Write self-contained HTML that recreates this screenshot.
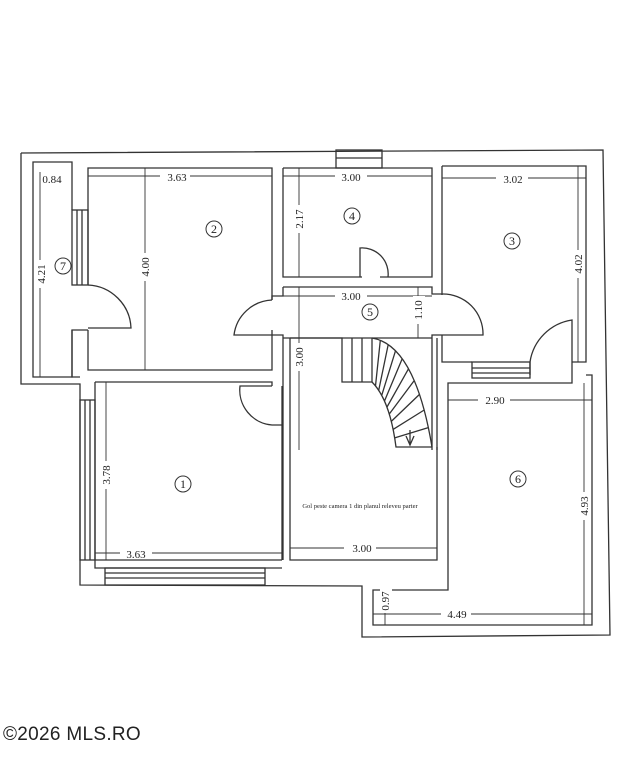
<!DOCTYPE html>
<html><head><meta charset="utf-8"><style>
html,body{margin:0;padding:0;background:#fff;}
svg{display:block;}
text{font-family:"Liberation Serif",serif;fill:#222;}
</style></head><body>
<svg width="626" height="768" viewBox="0 0 626 768" xmlns="http://www.w3.org/2000/svg">
<g fill="none" stroke="#333" stroke-width="1.3">
<polyline points="21,153 603,150 610,635 362,637 362,586 80,585 80,384 21,384 21,153"/>
<polyline points="72,210 72,162 33,162 33,377 72,377 72,330"/>
<rect x="72" y="210" width="16" height="75"/>
<line x1="77" y1="210" x2="77" y2="285"/><line x1="82" y1="210" x2="82" y2="285"/>
<polyline points="88,285 88,168 272,168 272,300"/>
<polyline points="272,330 272,370 88,370 88,330"/>
<polyline points="88,330 72,330 72,377 80,377"/>
<path d="M88,285 A45,45 0 0 1 131,328 L88,328"/>
<polyline points="283,168 283,277 362,277"/>
<polyline points="380,277 432,277 432,168 283,168"/>
<path d="M360,277 L360,248 A26,26 0 0 1 388,277"/>
<rect x="336" y="150" width="46" height="18"/>
<line x1="336" y1="158" x2="382" y2="158"/>
<polyline points="442,166 586,166 586,362 572,362"/>
<polyline points="442,166 442,295"/>
<polyline points="442,335 442,362 472,362"/>
<path d="M530,362 L530,375 M530,362 A50,50 0 0 1 572,320 L572,375"/>
<rect x="472" y="362" width="58" height="16"/>
<line x1="472" y1="368" x2="530" y2="368"/><line x1="472" y1="373" x2="530" y2="373"/>
<polyline points="283,287 283,296 272,296 272,300"/>
<polyline points="283,287 432,287 432,294 442,294"/>
<path d="M442,294 A40,40 0 0 1 483,335 L432,335 L432,450"/>
<path d="M272,300 A40,40 0 0 0 234,335 L283,335 L283,560"/>
<line x1="283" y1="338" x2="342" y2="338"/>
<polyline points="290,338 342,338 342,382 372,382"/>
<line x1="342" y1="338" x2="432" y2="338"/>
<line x1="352" y1="338" x2="352" y2="382"/><line x1="362" y1="338" x2="362" y2="382"/><line x1="372" y1="338" x2="372" y2="382"/>
<path d="M372,338 Q415,345 432,447"/>
<path d="M372,382 Q390,400 396,447 L432,447"/>
<path d="M380.3,340.4 L375.5,385.9 M388.2,344.6 L378.7,390.4 M395.5,350.8 L381.7,395.4 M402.2,358.8 L384.5,401 M408.5,368.8 L387,407 M414.2,380.6 L389.3,414 M419.5,394.4 L391.3,421.4 M424.2,410 L393.1,429.4 M428.3,427.6 L394.7,437.9"/>
<path d="M406,436 L410,445 L414,436 M410,430 L410,445"/>
<polyline points="95,382 272,382 272,386"/>
<polyline points="282,386 282,560"/>
<path d="M272,386 L240,386 A35,35 0 0 0 272,425 L282,425"/>
<polyline points="95,382 95,560 282,560"/>
<rect x="80" y="400" width="15" height="160"/>
<line x1="85" y1="400" x2="85" y2="560"/><line x1="90" y1="400" x2="90" y2="560"/>
<rect x="105" y="568" width="160" height="17"/>
<line x1="105" y1="573" x2="265" y2="573"/><line x1="105" y1="578" x2="265" y2="578"/>
<polyline points="95,560 95,568 282,568"/>
<polyline points="290,338 290,560 437,560 437,447"/>
<polyline points="448,450 448,383 572,383 572,375"/>
<polyline points="586,375 592,375 592,625 373,625 373,590 448,590 448,560"/>
<polyline points="448,560 448,450"/>
<polyline points="437,338 437,450"/>
</g>
<g stroke="#333" stroke-width="0.9" fill="none">
<line x1="88" y1="176" x2="272" y2="176"/>
<line x1="145" y1="168" x2="145" y2="370"/>
<line x1="40" y1="172" x2="40" y2="377"/>
<line x1="283" y1="176" x2="432" y2="176"/>
<line x1="299" y1="168" x2="299" y2="277"/>
<line x1="442" y1="178" x2="586" y2="178"/>
<line x1="578" y1="166" x2="578" y2="362"/>
<line x1="283" y1="296" x2="432" y2="296"/>
<line x1="418" y1="287" x2="418" y2="338"/>
<line x1="299" y1="287" x2="299" y2="450"/>
<line x1="106" y1="382" x2="106" y2="560"/>
<line x1="95" y1="553" x2="282" y2="553"/>
<line x1="290" y1="548" x2="437" y2="548"/>
<line x1="448" y1="400" x2="592" y2="400"/>
<line x1="584" y1="383" x2="584" y2="625"/>
<line x1="373" y1="614" x2="592" y2="614"/>
<line x1="385" y1="590" x2="385" y2="625"/>
</g>
<g font-size="11" text-anchor="middle">
<rect x="160" y="170" width="30" height="12" fill="#fff"/><text x="177" y="181">3.63</text>
<text x="52" y="183" font-size="11">0.84</text>
<rect x="335" y="170" width="32" height="12" fill="#fff"/><text x="351" y="181">3.00</text>
<rect x="496" y="172" width="32" height="12" fill="#fff"/><text x="513" y="183">3.02</text>
<rect x="335" y="290" width="32" height="12" fill="#fff"/><text x="351" y="300">3.00</text>
<rect x="120" y="547" width="32" height="12" fill="#fff"/><text x="136" y="558">3.63</text>
<rect x="344" y="542" width="32" height="12" fill="#fff"/><text x="362" y="552">3.00</text>
<rect x="478" y="394" width="32" height="12" fill="#fff"/><text x="495" y="404">2.90</text>
<rect x="441" y="608" width="30" height="12" fill="#fff"/><text x="457" y="618">4.49</text>
<g transform="translate(45,274) rotate(-90)"><rect x="-14" y="-9" width="28" height="12" fill="#fff"/><text>4.21</text></g>
<g transform="translate(149,267) rotate(-90)"><rect x="-14" y="-9" width="28" height="12" fill="#fff"/><text>4.00</text></g>
<g transform="translate(303,219) rotate(-90)"><rect x="-14" y="-9" width="28" height="12" fill="#fff"/><text>2.17</text></g>
<g transform="translate(582,264) rotate(-90)"><rect x="-14" y="-9" width="28" height="12" fill="#fff"/><text>4.02</text></g>
<g transform="translate(422,310) rotate(-90)"><rect x="-14" y="-9" width="28" height="12" fill="#fff"/><text>1.10</text></g>
<g transform="translate(303,357) rotate(-90)"><rect x="-14" y="-9" width="28" height="12" fill="#fff"/><text>3.00</text></g>
<g transform="translate(110,475) rotate(-90)"><rect x="-14" y="-9" width="28" height="12" fill="#fff"/><text>3.78</text></g>
<g transform="translate(588,506) rotate(-90)"><rect x="-14" y="-9" width="28" height="12" fill="#fff"/><text>4.93</text></g>
<g transform="translate(389,601) rotate(-90)"><rect x="-12" y="-9" width="24" height="12" fill="#fff"/><text>0.97</text></g>
</g>
<g font-size="12" text-anchor="middle" stroke="#333" stroke-width="1">
<circle cx="63" cy="266" r="8" fill="none"/><circle cx="214" cy="229" r="8" fill="none"/>
<circle cx="352" cy="216" r="8" fill="none"/><circle cx="512" cy="241" r="8" fill="none"/>
<circle cx="370" cy="312" r="8" fill="none"/><circle cx="183" cy="484" r="8" fill="none"/>
<circle cx="518" cy="479" r="8" fill="none"/>
</g>
<g font-size="12" text-anchor="middle">
<text x="63" y="270">7</text><text x="214" y="233">2</text><text x="352" y="220">4</text>
<text x="512" y="245">3</text><text x="370" y="316">5</text><text x="183" y="488">1</text><text x="518" y="483">6</text>
<text x="360" y="508" font-size="6.5">Gol peste camera 1 din planul releveu parter</text>
</g>
<text x="3" y="740" style="font-family:'Liberation Sans',sans-serif" font-size="19" fill="#333" letter-spacing="0.3">©2026 MLS.RO</text>
</svg>
</body></html>
